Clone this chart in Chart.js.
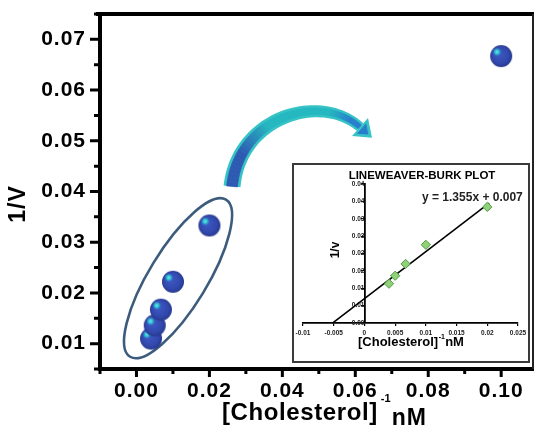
<!DOCTYPE html>
<html><head><meta charset="utf-8">
<script src="https://cdn.jsdelivr.net/npm/chart.js@4"></script>
<style>
html,body{margin:0;padding:0;background:#fff;}
#wrap{position:relative;width:536px;height:427px;overflow:hidden;}
#main{position:absolute;left:0;top:0;}
#insetBox{position:absolute;left:292px;top:163px;width:238px;height:200px;box-sizing:border-box;border:2px solid #3a3a3a;background:#fff;}
#inset{position:absolute;left:0;top:0;}
</style></head><body>
<div id="wrap">
<canvas id="main" width="536" height="427"></canvas>
<div id="insetBox"><canvas id="inset" width="234" height="196"></canvas></div>
</div>
<script>
// ---------- data ----------
const xValues = [0.004, 0.005, 0.0067, 0.01, 0.02, 0.1];
const yValues = [0.011, 0.0136, 0.0167, 0.0222, 0.0333, 0.0667];

const xTicks = [-0.01, 0, 0.01, 0.02, 0.03, 0.04, 0.05, 0.06, 0.07, 0.08, 0.09, 0.10];
const xTickLabels = ['', '0.00', '', '0.02', '', '0.04', '', '0.06', '', '0.08', '', '0.10'];
const yTicks = [0.005, 0.01, 0.015, 0.02, 0.025, 0.03, 0.035, 0.04, 0.045, 0.05, 0.055, 0.06, 0.065, 0.07, 0.075];
const yTickLabels = ['', '0.01', '', '0.02', '', '0.03', '', '0.04', '', '0.05', '', '0.06', '', '0.07', ''];

// inset (Lineweaver-Burk)
const insetX = [0.004, 0.005, 0.0067, 0.01, 0.02];
const insetY = [0.0113, 0.0136, 0.0170, 0.0225, 0.0334];
const fitSlope = 1.355;
const fitIntercept = 0.007;
const fitRangeX = [-0.0052, 0.0203];
const insetXTicks = [-0.01, -0.005, 0, 0.005, 0.01, 0.015, 0.02, 0.025];
const insetXTickLabels = ['-0.01', '-0.005', '0', '0.005', '0.01', '0.015', '0.02', '0.025'];
const insetYTicks = [0, 0.005, 0.01, 0.015, 0.02, 0.025, 0.03, 0.035, 0.04];
const insetYTickLabels = ['0.00', '0.01', '0.01', '0.02', '0.02', '0.03', '0.03', '0.04', '0.04'];

// annotations (data units)
const ellipseCenter = {x: 0.0114, y: 0.0229};
const arrowPath = [[0.0262, 0.0410], [0.0281, 0.0548], [0.0505, 0.0596], [0.0613, 0.0527]];

const FAM = '"Liberation Sans", Arial, Helvetica, sans-serif';

// ---------- ball image ----------
function makeBall(r) {
  const s = 2 * r + 2;
  const c = document.createElement('canvas');
  c.width = s; c.height = s;
  const g = c.getContext('2d');
  const cx = s / 2, cy = s / 2;
  const base = g.createRadialGradient(cx - r * 0.3, cy - r * 0.3, r * 0.1, cx, cy, r);
  base.addColorStop(0, '#3e5ac4');
  base.addColorStop(0.7, '#3249ae');
  base.addColorStop(1, '#27398f');
  g.fillStyle = base;
  g.beginPath(); g.arc(cx, cy, r, 0, Math.PI * 2); g.fill();
  const hx = cx - r * 0.38, hy = cy - r * 0.38;
  const hl = g.createRadialGradient(hx, hy, 0, hx, hy, r * 0.42);
  hl.addColorStop(0, 'rgba(95,238,235,1)');
  hl.addColorStop(0.45, 'rgba(50,200,210,0.95)');
  hl.addColorStop(1, 'rgba(50,120,200,0)');
  g.fillStyle = hl;
  g.beginPath(); g.arc(hx, hy, r * 0.42, 0, Math.PI * 2); g.fill();
  return c;
}
const ball = makeBall(11);

// ---------- decoration plugin (main) ----------
function lerp(a, b, t) { return a + (b - a) * t; }
function mixColor(c1, c2, t) {
  return 'rgb(' + [0, 1, 2].map(i => Math.round(lerp(c1[i], c2[i], t))).join(',') + ')';
}
const mainDecor = {
  id: 'mainDecor',
  beforeDraw(chart) { chart.ctx.letterSpacing = '1px'; },
  beforeDatasetsDraw(chart) {
    const ctx = chart.ctx, xs = chart.scales.x, ys = chart.scales.y;
    ctx.save();
    ctx.letterSpacing = '0px';
    // ellipse
    ctx.beginPath();
    ctx.ellipse(xs.getPixelForValue(ellipseCenter.x), ys.getPixelForValue(ellipseCenter.y), 92, 29, -58.6 * Math.PI / 180, 0, Math.PI * 2);
    ctx.strokeStyle = '#3d5b7c';
    ctx.lineWidth = 2.6;
    ctx.stroke();
    // curved arrow
    const P = arrowPath.map(p => [xs.getPixelForValue(p[0]), ys.getPixelForValue(p[1])]);
    const bez = (t) => {
      const u = 1 - t;
      return [u*u*u*P[0][0] + 3*u*u*t*P[1][0] + 3*u*t*t*P[2][0] + t*t*t*P[3][0],
              u*u*u*P[0][1] + 3*u*u*t*P[1][1] + 3*u*t*t*P[2][1] + t*t*t*P[3][1]];
    };
    const der = (t) => {
      const u = 1 - t;
      const dx = 3*u*u*(P[1][0]-P[0][0]) + 6*u*t*(P[2][0]-P[1][0]) + 3*t*t*(P[3][0]-P[2][0]);
      const dy = 3*u*u*(P[1][1]-P[0][1]) + 6*u*t*(P[2][1]-P[1][1]) + 3*t*t*(P[3][1]-P[2][1]);
      const l = Math.hypot(dx, dy);
      return [dx / l, dy / l];
    };
    const N = 48;
    const edges = (w0, w1) => {
      const L = [], R = [];
      for (let i = 0; i <= N; i++) {
        const t = i / N, b = bez(t), d = der(t), n = [-d[1], d[0]], w = lerp(w0, w1, t) / 2;
        L.push([b[0] + n[0] * w, b[1] + n[1] * w]);
        R.push([b[0] - n[0] * w, b[1] - n[1] * w]);
      }
      return [L, R];
    };
    const [L, R] = edges(17, 10);
    ctx.beginPath();
    ctx.moveTo(L[0][0], L[0][1]);
    L.forEach(p => ctx.lineTo(p[0], p[1]));
    for (let i = R.length - 1; i >= 0; i--) ctx.lineTo(R[i][0], R[i][1]);
    ctx.closePath();
    ctx.fillStyle = '#36c3c6';
    ctx.fill();
    const [Li, Ri] = edges(11, 5);
    const blueT = [47, 90, 178], teal = [38, 184, 192], blueH = [40, 125, 205];
    for (let i = 0; i < N; i++) {
      const t = (i + 0.5) / N;
      let col;
      if (t < 0.18) col = mixColor(blueT, blueT, 0);
      else if (t < 0.4) col = mixColor(blueT, teal, (t - 0.18) / 0.22);
      else if (t < 0.78) col = mixColor(teal, teal, 0);
      else col = mixColor(teal, blueH, Math.min(1, (t - 0.78) / 0.15));
      ctx.beginPath();
      ctx.moveTo(Li[i][0], Li[i][1]); ctx.lineTo(Li[i+1][0], Li[i+1][1]);
      ctx.lineTo(Ri[i+1][0], Ri[i+1][1]); ctx.lineTo(Ri[i][0], Ri[i][1]);
      ctx.closePath();
      ctx.fillStyle = col; ctx.strokeStyle = col; ctx.lineWidth = 0.6;
      ctx.fill(); ctx.stroke();
    }
    // head
    const E = P[3], d = der(1), n = [-d[1], d[0]];
    const tip = [E[0] + d[0] * 16, E[1] + d[1] * 16];
    const w1 = [E[0] + n[0] * 12, E[1] + n[1] * 12], w2 = [E[0] - n[0] * 12, E[1] - n[1] * 12];
    ctx.beginPath();
    ctx.moveTo(tip[0], tip[1]); ctx.lineTo(w1[0], w1[1]); ctx.lineTo(w2[0], w2[1]); ctx.closePath();
    ctx.fillStyle = '#36c3c6'; ctx.fill();
    const tip2 = [E[0] + d[0] * 11, E[1] + d[1] * 11];
    const v1 = [E[0] + d[0] * 2 + n[0] * 7, E[1] + d[1] * 2 + n[1] * 7], v2 = [E[0] + d[0] * 2 - n[0] * 7, E[1] + d[1] * 2 - n[1] * 7];
    ctx.beginPath();
    ctx.moveTo(tip2[0], tip2[1]); ctx.lineTo(v1[0], v1[1]); ctx.lineTo(v2[0], v2[1]); ctx.closePath();
    ctx.fillStyle = 'rgb(40,125,205)'; ctx.fill();
    ctx.restore();
  },
  afterDraw(chart) {
    const ctx = chart.ctx, xs = chart.scales.x, ys = chart.scales.y, a = chart.chartArea;
    ctx.save();
    // frame
    ctx.strokeStyle = '#000';
    ctx.lineWidth = 4;
    ctx.lineCap = 'butt';
    ctx.beginPath();
    ctx.moveTo(a.left - 4, a.top); ctx.lineTo(a.right, a.top);
    ctx.moveTo(a.left, a.top - 2); ctx.lineTo(a.left, a.bottom + 2);
    ctx.moveTo(a.left - 2, a.bottom); ctx.lineTo(a.right, a.bottom);
    ctx.stroke();
    ctx.lineWidth = 2; ctx.strokeStyle = '#222';
    ctx.beginPath(); ctx.moveTo(a.right - 1, a.top); ctx.lineTo(a.right - 1, a.bottom); ctx.stroke();
    // ticks
    ctx.lineWidth = 3; ctx.strokeStyle = '#000';
    ctx.beginPath();
    yTicks.forEach((v, i) => {
      const p = ys.getPixelForValue(v), len = yTickLabels[i] ? 10 : 6;
      ctx.moveTo(a.left, p); ctx.lineTo(a.left - len, p);
    });
    xTicks.forEach((v, i) => {
      const p = xs.getPixelForValue(v), len = xTickLabels[i] ? 8 : 5;
      ctx.moveTo(p, a.bottom); ctx.lineTo(p, a.bottom + len);
    });
    ctx.stroke();
    // titles
    ctx.fillStyle = '#000';
    ctx.letterSpacing = '1px';
    ctx.font = 'bold 23px ' + FAM;
    ctx.textAlign = 'center'; ctx.textBaseline = 'middle';
    ctx.save();
    ctx.translate(19, 204); ctx.rotate(-Math.PI / 2);
    ctx.fillText('1/V', 0, 0);
    ctx.restore();
    ctx.textAlign = 'left'; ctx.textBaseline = 'alphabetic';
    ctx.letterSpacing = '0.6px';
    ctx.font = 'bold 24px ' + FAM;
    const t1 = '[Cholesterol]';
    const x0 = 222;
    ctx.fillText(t1, x0, 420);
    const w = ctx.measureText(t1).width;
    ctx.font = 'bold 11px ' + FAM;
    ctx.letterSpacing = '0px';
    ctx.fillText('-1', x0 + w + 3, 402);
    ctx.font = 'bold 23px ' + FAM;
    ctx.letterSpacing = '1px';
    ctx.fillText('nM', x0 + w + 14, 425);
    ctx.restore();
  }
};

const tickFont = {family: FAM, size: 21, weight: 'bold'};
new Chart(document.getElementById('main'), {
  type: 'scatter',
  data: {
    datasets: [{
      data: xValues.map((x, i) => ({x: x, y: yValues[i]})),
      pointStyle: ball,
      pointRadius: 11,
      pointHoverRadius: 11
    }]
  },
  options: {
    responsive: false,
    animation: false,
    events: [],
    layout: {autoPadding: false, padding: {top: 14, right: 2, left: 0, bottom: 0}},
    plugins: {legend: {display: false}, tooltip: {enabled: false}},
    scales: {
      x: {
        type: 'linear', min: -0.01, max: 0.109,
        grid: {display: false, drawTicks: false},
        border: {display: false},
        afterBuildTicks: s => { s.ticks = xTicks.map(v => ({value: v})); },
        ticks: {callback: (v, i) => xTickLabels[i], font: tickFont, color: '#000', padding: 10, maxRotation: 0, autoSkip: false},
        afterFit: s => { s.height = 58; s.paddingLeft = 0; s.paddingRight = 0; }
      },
      y: {
        type: 'linear', min: 0.005, max: 0.075,
        grid: {display: false, drawTicks: false},
        border: {display: false},
        afterBuildTicks: s => { s.ticks = yTicks.map(v => ({value: v})); },
        ticks: {callback: (v, i) => yTickLabels[i], font: tickFont, color: '#000', padding: 14, autoSkip: false},
        afterFit: s => { s.width = 100; s.paddingTop = 0; s.paddingBottom = 0; }
      }
    }
  },
  plugins: [mainDecor]
});

// ---------- inset ----------
const insetDecor = {
  id: 'insetDecor',
  afterDraw(chart) {
    const ctx = chart.ctx;
    ctx.save();
    ctx.fillStyle = '#000';
    ctx.textAlign = 'center'; ctx.textBaseline = 'alphabetic';
    ctx.font = '900 11.5px ' + FAM;
    ctx.fillText('LINEWEAVER-BURK PLOT', 128, 14);
    ctx.fillStyle = '#222';
    ctx.textAlign = 'left';
    ctx.font = 'bold 12px ' + FAM;
    ctx.fillText('y = ' + fitSlope + 'x + ' + fitIntercept, 128, 36);
    ctx.fillStyle = '#000';
    ctx.font = 'bold 13px ' + FAM;
    const t = '[Cholesterol]';
    const x0 = 64;
    ctx.fillText(t, x0, 181);
    const w = ctx.measureText(t).width;
    ctx.font = 'bold 7px ' + FAM;
    ctx.fillText('-1', x0 + w + 0.5, 174);
    ctx.font = 'bold 13px ' + FAM;
    ctx.fillText('nM', x0 + w + 7, 181);
    ctx.save();
    ctx.translate(42, 85); ctx.rotate(-Math.PI / 2);
    ctx.textAlign = 'center'; ctx.textBaseline = 'middle';
    ctx.font = 'bold 12px ' + FAM;
    ctx.fillText('1/v', 0, 0);
    ctx.restore();
    ctx.restore();
  }
};
const smallFont = {family: FAM, size: 6.5, weight: 'bold'};
new Chart(document.getElementById('inset'), {
  type: 'scatter',
  data: {
    datasets: [
      {
        type: 'line',
        data: fitRangeX.map(x => ({x: x, y: fitSlope * x + fitIntercept})),
        borderColor: '#000', borderWidth: 1.6, pointRadius: 0, clip: false, order: 2, fill: false
      },
      {
        data: insetX.map((x, i) => ({x: x, y: insetY[i]})),
        pointStyle: 'rectRot', pointRadius: 4.6, pointHoverRadius: 4.6,
        backgroundColor: '#8fd27a', borderColor: '#4f9b3c', borderWidth: 1, order: 1
      }
    ]
  },
  options: {
    responsive: false,
    animation: false,
    events: [],
    layout: {autoPadding: false, padding: {left: 9, right: 10, top: 19, bottom: 0}},
    plugins: {legend: {display: false}, tooltip: {enabled: false}},
    scales: {
      x: {
        type: 'linear', min: -0.01, max: 0.025,
        afterBuildTicks: s => { s.ticks = insetXTicks.map(v => ({value: v})); },
        ticks: {callback: (v, i) => insetXTickLabels[i], font: smallFont, color: '#222', padding: 3, maxRotation: 0, autoSkip: false},
        grid: {drawOnChartArea: false, drawTicks: true, tickLength: 3, color: '#000', lineWidth: 1.2},
        border: {color: '#000', width: 1.8},
        afterFit: s => { s.height = 38; s.paddingLeft = 0; s.paddingRight = 0; }
      },
      y: {
        type: 'linear', min: 0, max: 0.04, position: {x: 0},
        afterBuildTicks: s => { s.ticks = insetYTicks.map(v => ({value: v})); },
        ticks: {callback: (v, i) => insetYTickLabels[i], font: smallFont, color: '#222', padding: 1, autoSkip: false},
        grid: {drawOnChartArea: false, drawTicks: true, tickLength: 3, color: '#000', lineWidth: 1.2},
        border: {color: '#000', width: 1.8}
      }
    }
  },
  plugins: [insetDecor]
});
</script>
</body></html>
